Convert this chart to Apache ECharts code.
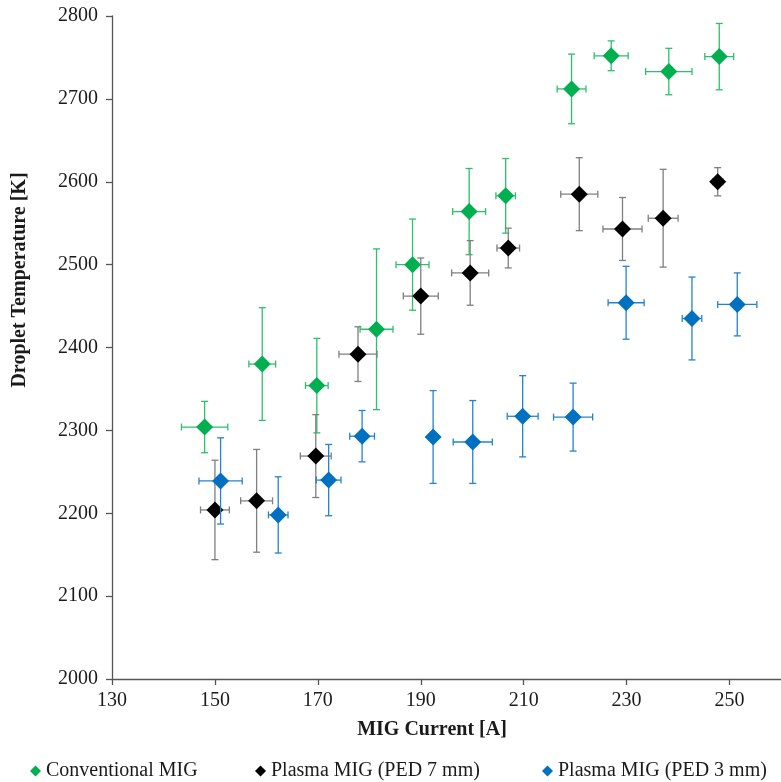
<!DOCTYPE html>
<html>
<head>
<meta charset="utf-8">
<script src="https://cdn.jsdelivr.net/npm/echarts@6/dist/echarts.min.js"></script>
<style>
html,body{margin:0;padding:0;background:#fff;}
#chart{width:781px;height:782px;}
</style>
</head>
<body>
<div id="chart"></div>
<script>
// ---- Data ----
var seriesNames = ['Conventional MIG', 'Plasma MIG (PED 7 mm)', 'Plasma MIG (PED 3 mm)'];

var currentConv = [148.0, 159.2, 169.8, 181.4, 188.4, 199.4, 206.5, 219.3, 227.0, 238.2, 248.0];
var tempConv    = [2304, 2380, 2354, 2422, 2500, 2564, 2583, 2712, 2752, 2733, 2751];
var tempErrConv = [31, 68, 57, 97, 55, 52, 45, 42, 18, 28, 40];
var currErrConv = [4.5, 2.6, 2.2, 3.2, 3.2, 3.2, 1.9, 2.8, 3.3, 4.5, 2.8];

var current7 = [150.0, 158.1, 169.6, 177.8, 190.0, 199.6, 207.0, 220.8, 229.2, 237.1, 247.7];
var temp7    = [2204, 2215, 2269, 2392, 2462, 2490, 2520, 2585, 2543, 2556, 2600];
var tempErr7 = [60, 62, 50, 33, 46, 39, 24, 44, 38, 59, 17];
var currErr7 = [2.8, 3.1, 3.0, 3.7, 3.4, 3.6, 2.2, 3.6, 3.8, 2.9, 1.0];

var current3 = [151.1, 162.3, 172.1, 178.6, 192.4, 200.1, 209.8, 219.6, 229.9, 242.7, 251.5];
var temp3    = [2239, 2198, 2240, 2293, 2292, 2286, 2317, 2316, 2454, 2435, 2452];
var tempErr3 = [52, 46, 43, 31, 56, 50, 49, 41, 44, 50, 38];
var currErr3 = [4.2, 1.9, 2.4, 2.4, 0.8, 3.8, 3.0, 3.8, 3.5, 1.9, 3.8];

var xMin = 130, xMax = 260, xInterval = 20;
var yMin = 2000, yMax = 2800, yInterval = 100;

// ---- Styles ----
var markerColors = ['#00b050', '#000000', '#0070c0'];
var errColors = ['#2cc06a', '#7f7f7f', '#2383d2'];
var legendLefts = [25, 250, 537];
var FONT = '"Liberation Serif", "Times New Roman", serif';

function rows(xs, ys, exs, eys) {
  return xs.map(function (x, i) { return [x, ys[i], exs[i], eys[i]]; });
}
var groups = [
  rows(currentConv, tempConv, currErrConv, tempErrConv),
  rows(current7, temp7, currErr7, tempErr7),
  rows(current3, temp3, currErr3, tempErr3)
];

function errRenderer(color) {
  return function (params, api) {
    var x = api.value(0), y = api.value(1), ex = api.value(2), ey = api.value(3);
    var l = api.coord([x - ex, y]), r = api.coord([x + ex, y]);
    var t = api.coord([x, y + ey]), b = api.coord([x, y - ey]);
    var cap = 3.5;
    var st = { stroke: color, lineWidth: 1.3 };
    return {
      type: 'group',
      children: [
        { type: 'line', shape: { x1: l[0], y1: l[1], x2: r[0], y2: r[1] }, style: st },
        { type: 'line', shape: { x1: l[0], y1: l[1] - cap, x2: l[0], y2: l[1] + cap }, style: st },
        { type: 'line', shape: { x1: r[0], y1: r[1] - cap, x2: r[0], y2: r[1] + cap }, style: st },
        { type: 'line', shape: { x1: t[0], y1: t[1], x2: b[0], y2: b[1] }, style: st },
        { type: 'line', shape: { x1: t[0] - cap, y1: t[1], x2: t[0] + cap, y2: t[1] }, style: st },
        { type: 'line', shape: { x1: b[0] - cap, y1: b[1], x2: b[0] + cap, y2: b[1] }, style: st }
      ]
    };
  };
}

var series = [];
groups.forEach(function (g, i) {
  series.push({
    type: 'custom',
    name: seriesNames[i] + ' err',
    renderItem: errRenderer(errColors[i]),
    data: g,
    encode: { x: 0, y: 1 },
    z: 2 + i * 2,
    silent: true
  });
  series.push({
    type: 'scatter',
    name: seriesNames[i],
    data: g.map(function (r) { return [r[0], r[1]]; }),
    symbol: 'diamond',
    symbolSize: [17, 17],
    itemStyle: { color: markerColors[i], opacity: 1 },
    z: 3 + i * 2
  });
});

var legends = seriesNames.map(function (n, i) {
  return {
    data: [{ name: n, icon: 'diamond', itemStyle: { color: markerColors[i], opacity: 1 } }],
    left: legendLefts[i], top: 756,
    itemWidth: 11, itemHeight: 11,
    textStyle: { fontFamily: FONT, fontSize: 20, color: '#1a1a1a' },
    selectedMode: false
  };
});

var chart = echarts.init(document.getElementById('chart'), null, { renderer: 'canvas' });
chart.setOption({
  animation: false,
  backgroundColor: '#ffffff',
  grid: { left: 112, top: 16, right: -7, bottom: 103, containLabel: false },
  xAxis: {
    type: 'value',
    min: xMin, max: xMax, interval: xInterval,
    axisLine: { show: true, lineStyle: { color: '#555555', width: 1.3 } },
    axisTick: { show: true, length: 6, inside: false, lineStyle: { color: '#555555', width: 1.3 } },
    axisLabel: { fontFamily: FONT, fontSize: 20, color: '#1a1a1a', margin: 12, showMaxLabel: false },
    splitLine: { show: false }
  },
  yAxis: {
    type: 'value',
    min: yMin, max: yMax, interval: yInterval,
    axisLine: { show: true, lineStyle: { color: '#555555', width: 1.3 } },
    axisTick: { show: true, length: 6, inside: false, lineStyle: { color: '#555555', width: 1.3 } },
    axisLabel: { fontFamily: FONT, fontSize: 20, color: '#1a1a1a', margin: 14,
      formatter: function (v) { return String(v); } },
    splitLine: { show: false }
  },
  legend: legends,
  graphic: [
    {
      type: 'text', x: 432, y: 730,
      style: { text: 'MIG Current [A]', font: 'bold 20px ' + FONT, fill: '#1a1a1a', textAlign: 'center', textVerticalAlign: 'middle' }
    },
    {
      type: 'text', x: 20, y: 280, rotation: Math.PI / 2,
      style: { text: 'Droplet Temperature [K]', font: 'bold 20px ' + FONT, fill: '#1a1a1a', textAlign: 'center', textVerticalAlign: 'middle' }
    }
  ],
  series: series
});
</script>
</body>
</html>
